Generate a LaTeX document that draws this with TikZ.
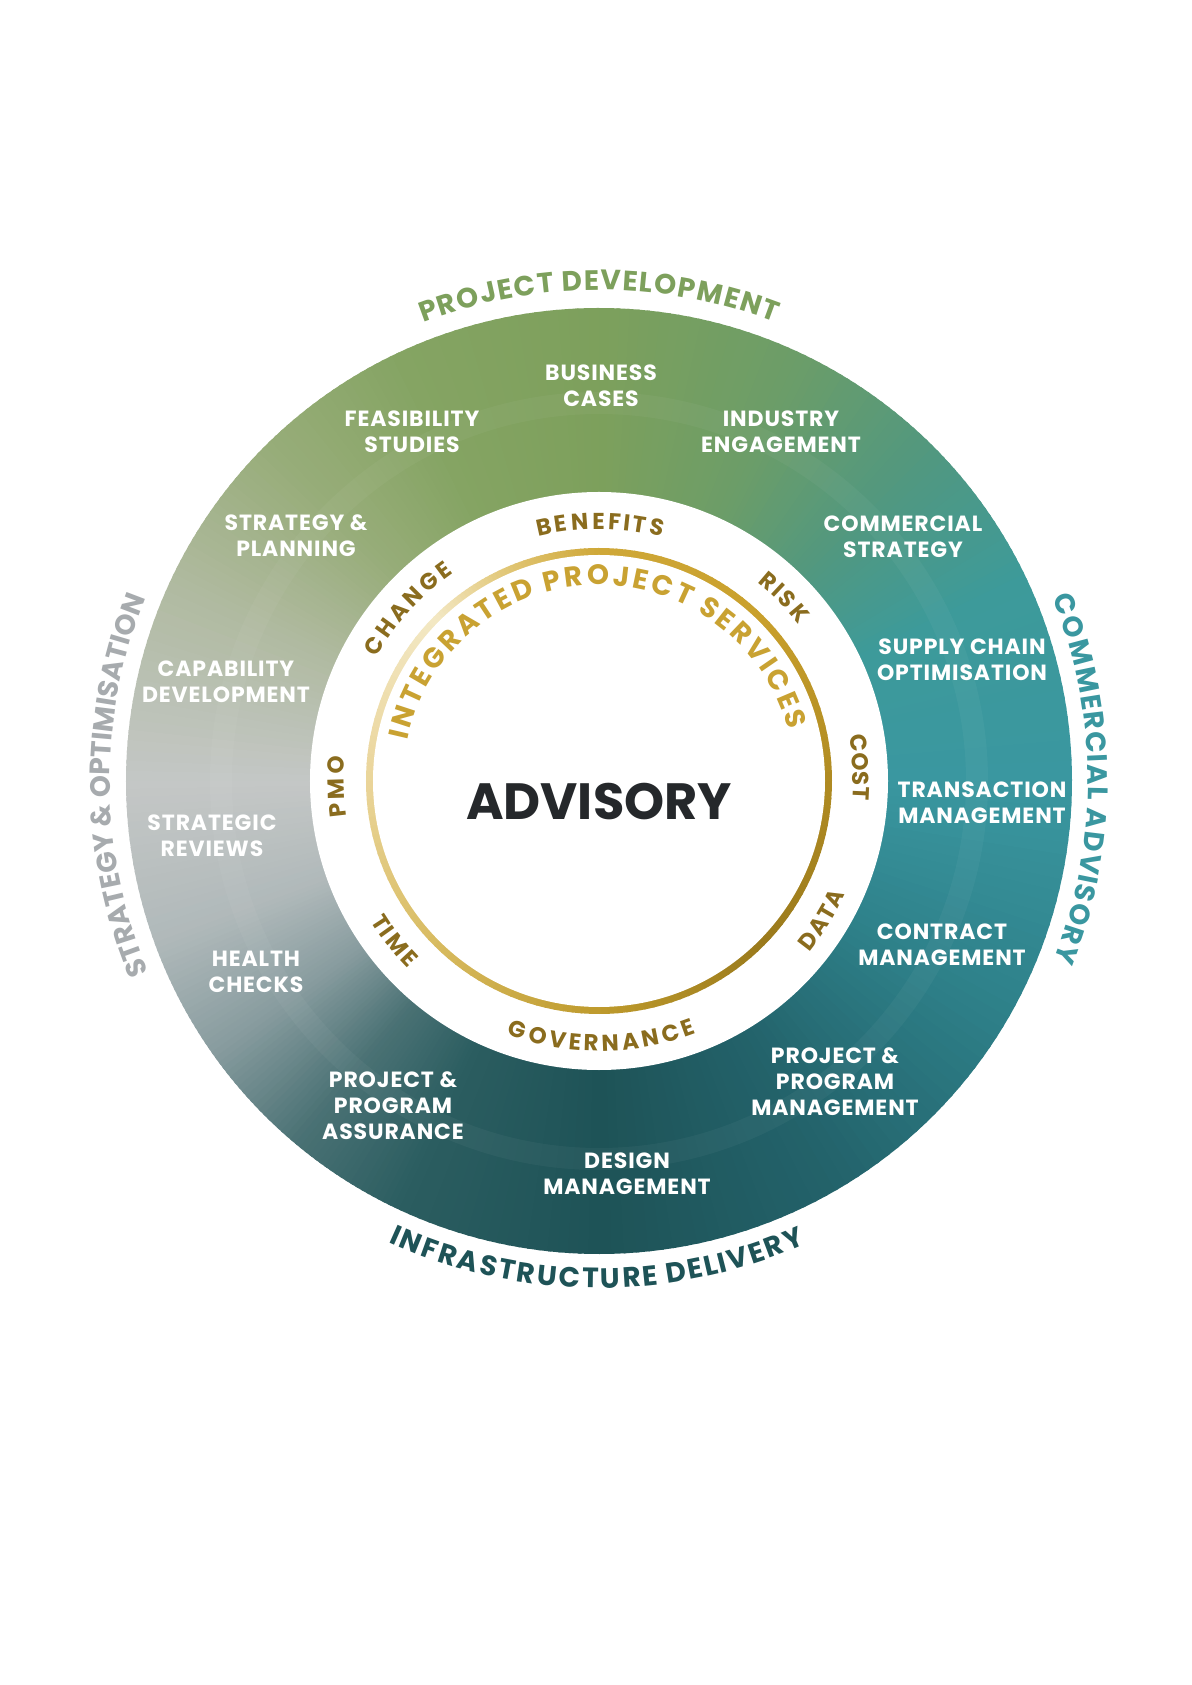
\documentclass[tikz,border=0pt]{standalone}
\usepackage{fontspec}
\usetikzlibrary{decorations.text}
\newfontfamily\popfont{Poppins}
\newfontfamily\popwide{Poppins}[LetterSpace=4]

\definecolor{pdgreen}{HTML}{7DA05C}
\definecolor{cateal}{HTML}{3A97A0}
\definecolor{iddark}{HTML}{1E5357}
\definecolor{sogrey}{HTML}{A7ABAE}
\definecolor{tagbrown}{HTML}{8A6C1E}
\definecolor{ipsgold}{HTML}{C9A232}
\definecolor{advdark}{HTML}{25282B}
% outer ring colours, counter-clockwise from the bottom
\definecolor{oA}{HTML}{1E5357}
\definecolor{oB}{HTML}{23626A}
\definecolor{oC}{HTML}{2E8089}
\definecolor{oD}{HTML}{3A97A0}
\definecolor{oE}{HTML}{3D9A9A}
\definecolor{oF}{HTML}{52987F}
\definecolor{oG}{HTML}{6C9D68}
\definecolor{oH}{HTML}{7DA05C}
\definecolor{oI}{HTML}{85A463}
\definecolor{oJ}{HTML}{98AD7A}
\definecolor{oK}{HTML}{B0BAA0}
\definecolor{oL}{HTML}{C4C7C6}
\definecolor{oM}{HTML}{B0B9BA}
\definecolor{oN}{HTML}{889C9F}
\definecolor{oO}{HTML}{4A7174}
\definecolor{oP}{HTML}{2B5D60}
% gold ring colours
\definecolor{gA}{HTML}{BE9A2C}
\definecolor{gB}{HTML}{9A7A1C}
\definecolor{gC}{HTML}{B08B22}
\definecolor{gD}{HTML}{C9A02C}
\definecolor{gE}{HTML}{CFA838}
\definecolor{gF}{HTML}{E0C471}
\definecolor{gG}{HTML}{F3E8C4}
\definecolor{gH}{HTML}{EAD59A}
\definecolor{gI}{HTML}{D8BB60}

\newcommand{\titlefont}{\popfont\bfseries\fontsize{28}{28}\selectfont}
\newcommand{\itemfont}{\popwide\bfseries\fontsize{22}{26}\selectfont}
\newcommand{\tagfont}{\popfont\bfseries\fontsize{23}{23}\selectfont}
\newcommand{\ipsfont}{\popfont\bfseries\fontsize{28}{28}\selectfont}

\newcommand{\conicfill}[2]{%
  \foreach \aA/\aB/\cA/\cB in {#2}{
    \foreach \i in {0,...,19}{
      \pgfmathsetmacro\sA{\aA+(\aB-\aA)*\i/20}
      \pgfmathsetmacro\sB{\aA+(\aB-\aA)*(\i+1)/20+0.4}
      \pgfmathtruncatemacro\pc{5*\i+2}
      \fill[\cB!\pc!\cA] (0,0) -- (\sA:#1) arc[start angle=\sA, end angle=\sB, radius=#1] -- cycle;
    }
  }
}

\tikzset{
  ringitem/.style={text=white, align=center, font=\itemfont, inner sep=0pt},
  fittext/.style n args={3}{decorate, decoration={text effects along path, text={#1},
    text effects/.cd, text along path, fit text to path, characters={inner sep=0pt, text=#2, font=#3}}},
}

\begin{document}
\begin{tikzpicture}[x=1pt,y=1pt]
  \useasboundingbox (-599,-904) rectangle (592,781);
  \fill[white] (-599,-904) rectangle (592,781);

  % outer ring
  \conicfill{473pt}{-90/-60/oA/oB, -60/-30/oB/oC, -30/0/oC/oD, 0/25/oD/oE, 25/45/oE/oF,
    45/65/oF/oG, 65/90/oG/oH, 90/115/oH/oI, 115/135/oI/oJ, 135/155/oJ/oK, 155/180/oK/oL,
    180/200/oL/oM, 200/215/oM/oN, 215/230/oN/oO, 230/245/oO/oP, 245/270/oP/oA}
  \draw[white, opacity=0.04, line width=22pt] (0,0) circle (378pt);
  \node[circle, fill=white, minimum size=578pt, inner sep=0pt] (hub) at (0,0) {};

  % gold ring
  \conicfill{233pt}{-90/-45/gA/gB, -45/0/gB/gC, 0/45/gC/gD, 45/90/gD/gE, 90/112/gE/gF,
    112/135/gF/gG, 135/180/gG/gH, 180/225/gH/gI, 225/270/gI/gA}
  \node[circle, fill=white, minimum size=452pt, inner sep=0pt] (core) at (0,0) {};

  % section titles
  \path[fittext={PROJECT DEVELOPMENT}{pdgreen}{\titlefont}]
    (111:491pt) arc[start angle=111, end angle=69, radius=491pt];
  \path[fittext={COMMERCIAL ADVISORY}{cateal}{\titlefont}]
    (22:489pt) arc[start angle=22, end angle=-21.5, radius=489pt];
  \path[fittext={STRATEGY {\&} OPTIMISATION}{sogrey}{\titlefont}]
    (203:489pt) arc[start angle=203, end angle=158, radius=489pt];
  \path[fittext={INFRASTRUCTURE DELIVERY}{iddark}{\titlefont}]
    (245.5:507pt) arc[start angle=245.5, end angle=294, radius=507pt];

  % services in the ring
  \node[ringitem] (business) at (2,395) {BUSINESS\\CASES};
  \node[ringitem] (feasibility) at (-187,349) {FEASIBILITY\\STUDIES};
  \node[ringitem] (industry) at (182,349) {INDUSTRY\\ENGAGEMENT};
  \node[ringitem] (planning) at (-303,245) {STRATEGY \&\\PLANNING};
  \node[ringitem] (commercial) at (304,244) {COMMERCIAL\\STRATEGY};
  \node[ringitem] (capability) at (-373,99) {CAPABILITY\\DEVELOPMENT};
  \node[ringitem] (supply) at (363,121) {SUPPLY CHAIN\\OPTIMISATION};
  \node[ringitem] (reviews) at (-387,-55) {STRATEGIC\\REVIEWS};
  \node[ringitem] (transaction) at (383,-22) {TRANSACTION\\MANAGEMENT};
  \node[ringitem] (health) at (-343,-191) {HEALTH\\CHECKS};
  \node[ringitem] (contract) at (343,-164) {CONTRACT\\MANAGEMENT};
  \node[ringitem] (assurance) at (-206,-325) {PROJECT \&\\PROGRAM\\ASSURANCE};
  \node[ringitem] (progman) at (236,-301) {PROJECT \&\\PROGRAM\\MANAGEMENT};
  \node[ringitem] (design) at (28,-393) {DESIGN\\MANAGEMENT};

  % integrated project services
  \path[fittext={BENEFITS}{tagbrown}{\tagfont}]
    (104:252pt) arc[start angle=104, end angle=75.5, radius=252pt];
  \path[fittext={RISK}{tagbrown}{\tagfont}]
    (51.5:254pt) arc[start angle=51.5, end angle=38, radius=254pt];
  \path[fittext={COST}{tagbrown}{\tagfont}]
    (10.3:254pt) arc[start angle=10.3, end angle=-4.2, radius=254pt];
  \path[fittext={CHANGE}{tagbrown}{\tagfont}]
    (151:254pt) arc[start angle=151, end angle=125, radius=254pt];
  \path[fittext={PMO}{tagbrown}{\tagfont}]
    (188:255pt) arc[start angle=188, end angle=174.5, radius=255pt];
  \path[fittext={TIME}{tagbrown}{\tagfont}]
    (211.5:268pt) arc[start angle=211.5, end angle=224.5, radius=268pt];
  \path[fittext={GOVERNANCE}{tagbrown}{\tagfont}]
    (250:270pt) arc[start angle=250, end angle=291, radius=270pt];
  \path[fittext={DATA}{tagbrown}{\tagfont}]
    (320.8:271pt) arc[start angle=320.8, end angle=335.2, radius=271pt];
  \path[fittext={INTEGRATED PROJECT SERVICES}{ipsgold}{\ipsfont}]
    (168:196pt) arc[start angle=168, end angle=15, radius=196pt];

  \node[text=advdark, font=\popfont\bfseries\fontsize{51}{51}\selectfont, inner sep=0pt] (advisory) at (0,-21) {ADVISORY};
\end{tikzpicture}
\end{document}
